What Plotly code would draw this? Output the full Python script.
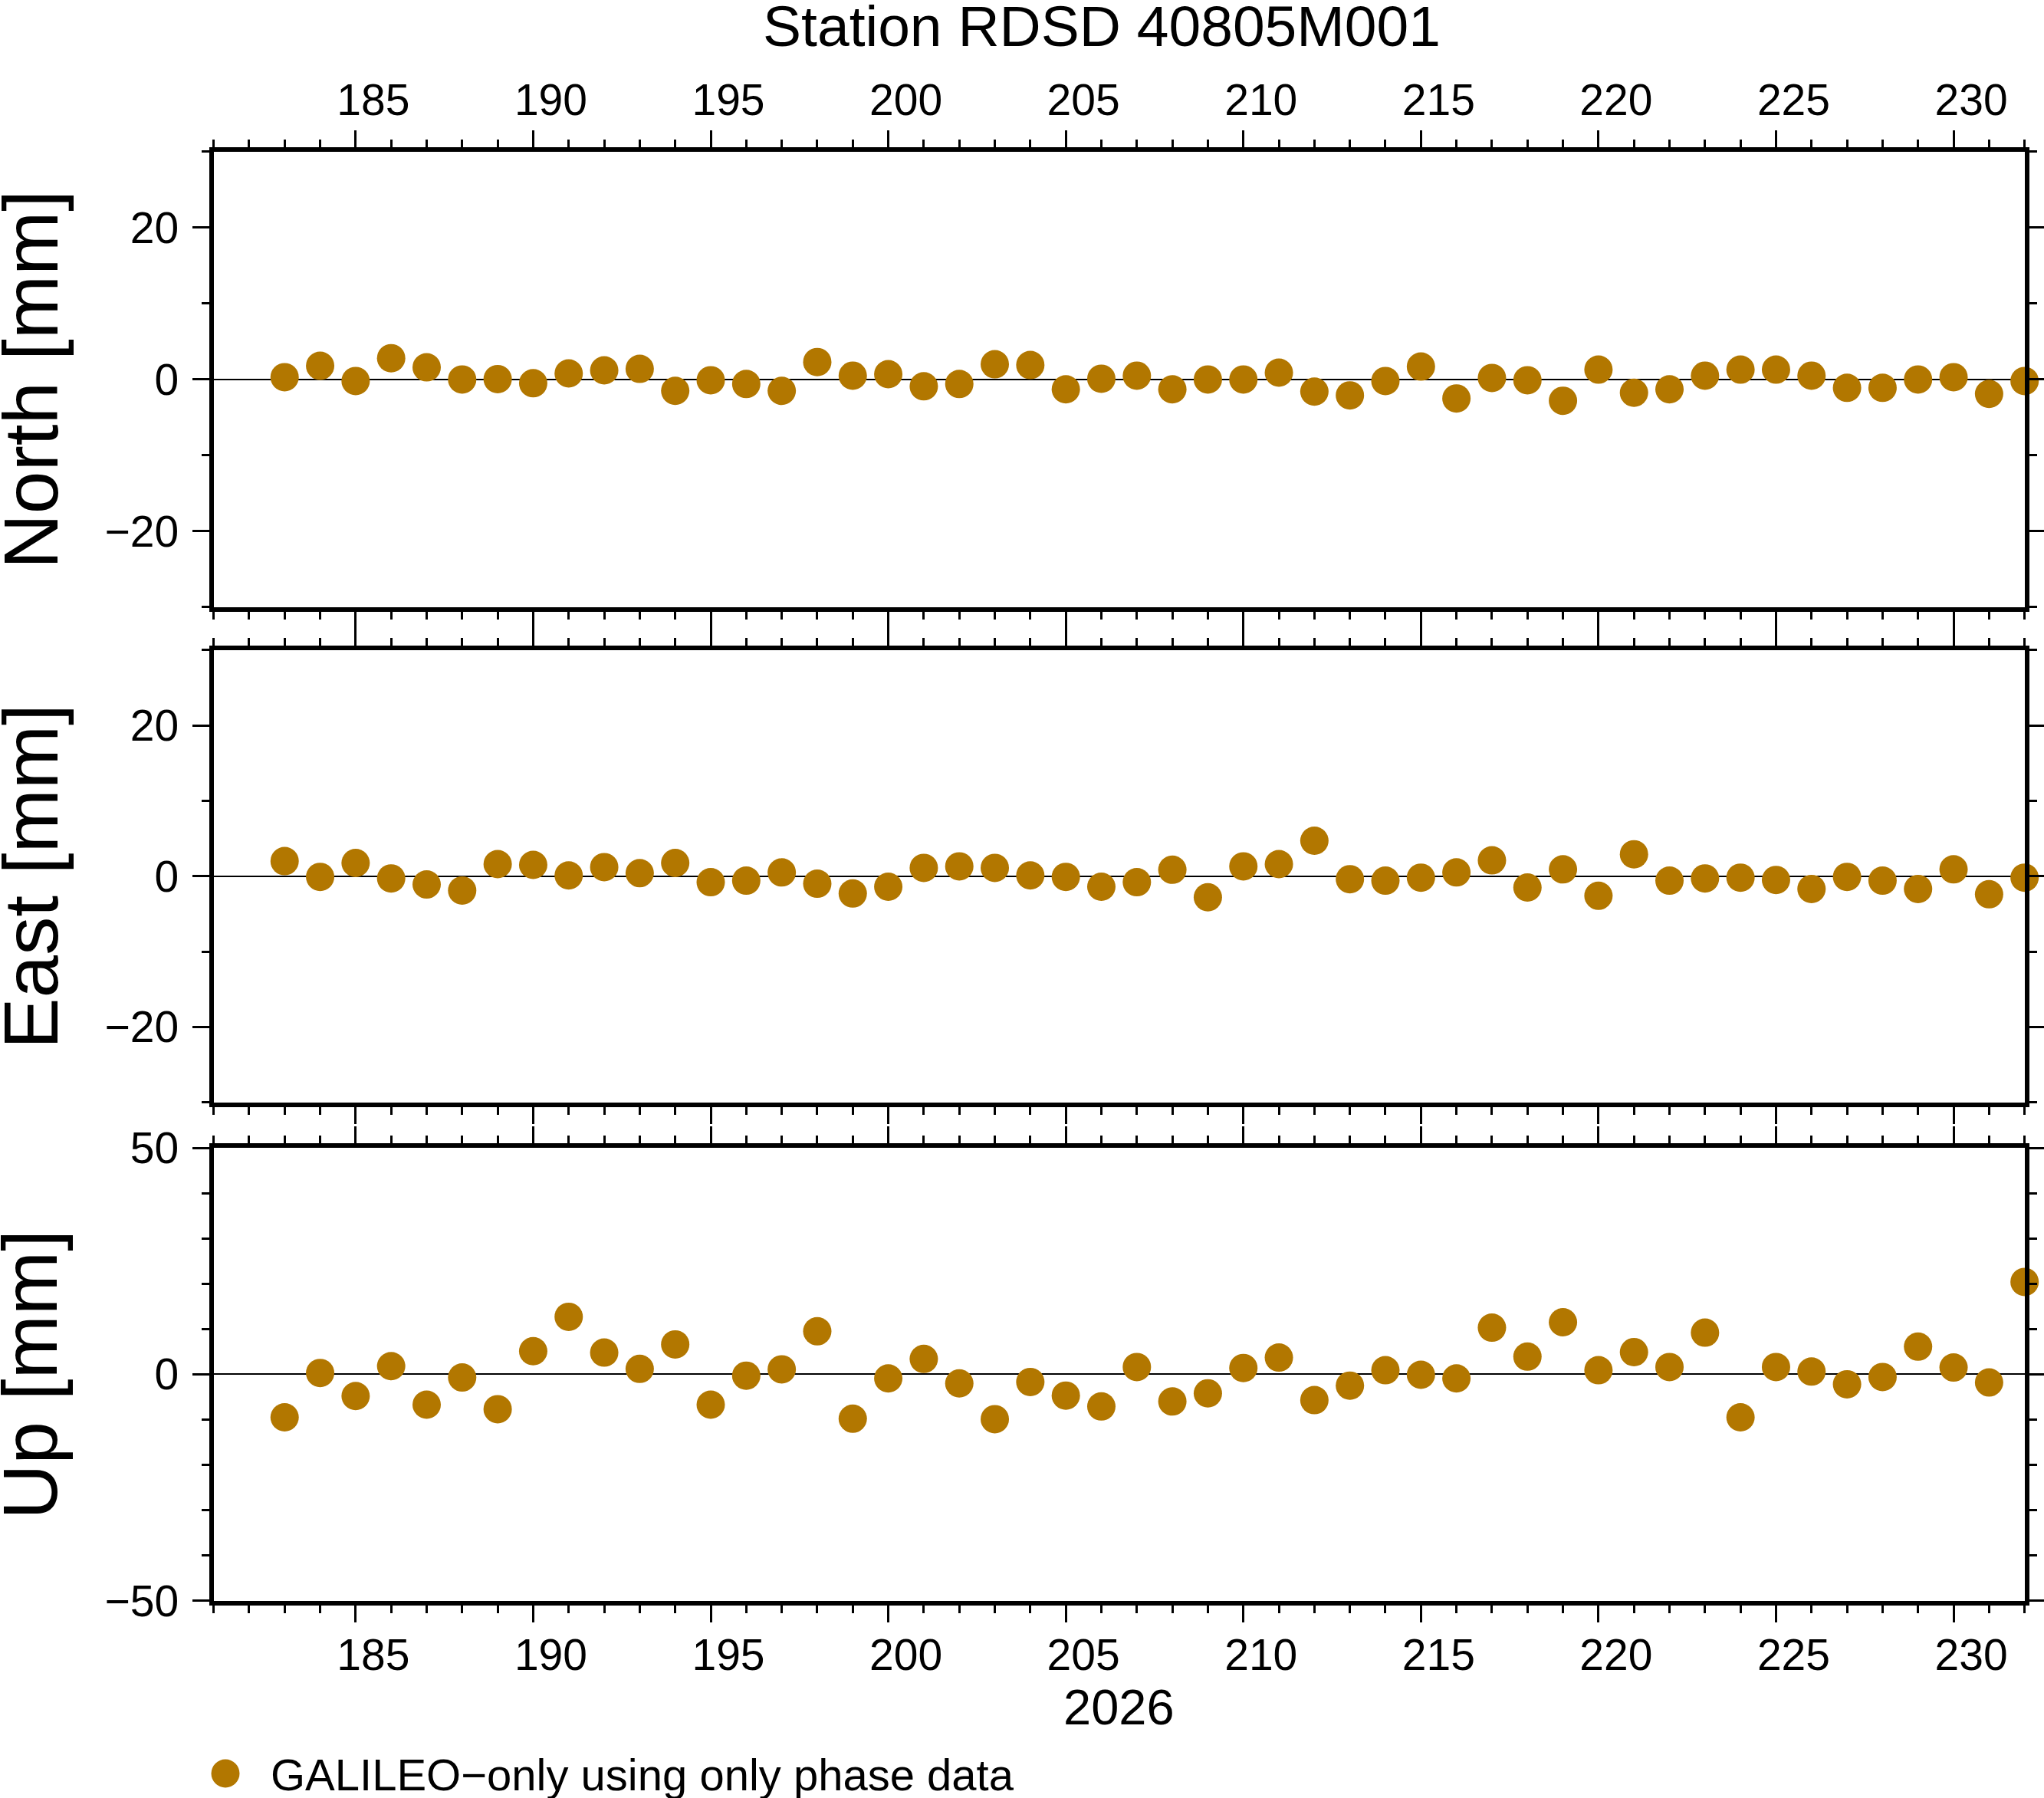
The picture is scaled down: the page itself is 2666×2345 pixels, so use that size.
import plotly.graph_objects as go

# Daily residuals of station RDSD 40805M001 (day of year 2026), in mm
days = list(range(183, 233))

north = [0.3, 1.8, -0.2, 2.8, 1.6, 0.0, 0.05, -0.5, 0.8, 1.2,
         1.4, -1.5, -0.1, -0.6, -1.5, 2.3, 0.5, 0.7, -0.9, -0.6,
         2.0, 1.9, -1.3, 0.1, 0.5, -1.3, 0.0, 0.0, 0.9, -1.6,
         -2.1, -0.2, 1.7, -2.5, 0.2, -0.1, -2.8, 1.3, -1.75, -1.3,
         0.5, 1.3, 1.3, 0.5, -1.1, -1.1, 0.0, 0.3, -1.9, -0.2]

east = [2.0, -0.1, 1.75, -0.3, -1.1, -1.9, 1.6, 1.5, 0.1, 1.2,
        0.4, 1.75, -0.8, -0.6, 0.5, -1.0, -2.3, -1.4, 1.1, 1.3,
        1.1, 0.1, -0.1, -1.4, -0.8, 0.85, -2.8, 1.3, 1.6, 4.7,
        -0.4, -0.6, -0.2, 0.5, 2.1, -1.5, 0.9, -2.6, 2.9, -0.6,
        -0.3, -0.2, -0.5, -1.7, -0.1, -0.6, -1.7, 0.9, -2.4, -0.2]

up = [-9.5, 0.3, -4.8, 1.8, -6.7, -0.7, -7.7, 5.1, 12.7, 4.8,
      1.2, 6.6, -6.7, -0.3, 1.1, 9.5, -9.8, -0.9, 3.4, -2.0,
      -9.9, -1.7, -4.7, -7.1, 1.6, -6.0, -4.2, 1.4, 3.7, -5.7,
      -2.5, 0.9, -0.1, -0.9, 10.3, 3.9, 11.5, 0.9, 4.9, 1.6,
      9.2, -9.5, 1.6, 0.6, -2.2, -0.6, 6.1, 1.5, -1.8, 20.4]

panel_titles = ["North [mm]", "East [mm]", "Up [mm]"]
series_name = "GALILEO\u2212only using only phase data"
year_label = "2026"
title = "Station RDSD 40805M001"

dot_color = "#b27700"
font_family = "Liberation Sans, Arial, sans-serif"

x_dom = [0.1045, 0.9905]
y_doms = [[0.6623, 0.9156], [0.3869, 0.6385], [0.1097, 0.3616]]
y_ranges = [[-30, 30], [-30, 30], [-50, 50]]
y_dticks = [20, 20, 50]

fig = go.Figure()

for i, vals in enumerate([north, east, up]):
    n = "" if i == 0 else str(i + 1)
    fig.add_trace(go.Scatter(
        x=days, y=vals, mode="markers", name=series_name,
        marker=dict(size=37, color=dot_color),
        cliponaxis=False, showlegend=False,
        xaxis="x" + n, yaxis="y" + n,
    ))

    # common frame look: thick box, ticks outside on all four sides
    axis_common = dict(
        showline=True, linewidth=6, linecolor="black", mirror="allticks",
        ticks="outside", tickwidth=3, tickcolor="black", ticklen=22,
        showgrid=False, tickfont=dict(size=57, family=font_family),
    )

    # day labels sit in the middle of the day, half a day right of the tick
    xaxis = dict(
        axis_common, domain=x_dom, range=[181, 232], dtick=5, tick0=0,
        zeroline=False, anchor="y" + n, ticklabelshift=23,
        minor=dict(dtick=1, ticks="outside", ticklen=10, tickwidth=3, tickcolor="black"),
    )
    if i == 0:
        xaxis["side"] = "top"
        xaxis["ticklabelstandoff"] = -3
    elif i == 1:
        xaxis["showticklabels"] = False
    else:
        xaxis["ticklabelstandoff"] = -6
    yaxis = dict(
        axis_common, domain=y_doms[i], range=y_ranges[i], dtick=y_dticks[i], tick0=0,
        zeroline=True, zerolinecolor="black", zerolinewidth=2, anchor="x" + n,
        minor=dict(dtick=10, ticks="outside", ticklen=10, tickwidth=3, tickcolor="black"),
        ticklabelstandoff=6,
    )
    fig.update_layout({"xaxis" + n: xaxis, "yaxis" + n: yaxis})

    # component name to the left of each panel
    fig.add_annotation(
        text=panel_titles[i], textangle=-90, showarrow=False,
        xref="paper", x=0.0148, xanchor="center",
        yref="y" + n + " domain", y=0.5, yanchor="middle",
        font=dict(size=100, family=font_family, color="black"),
    )

# year below the bottom axis
fig.add_annotation(
    text=year_label, showarrow=False,
    xref="x3 domain", x=0.5, xanchor="center",
    yref="paper", y=1 - 2226 / 2345, yanchor="middle",
    font=dict(size=65, family=font_family, color="black"),
)

# legend: dot + label under the plot
fig.add_shape(
    type="circle", xref="paper", yref="paper",
    x0=(294 - 18.5) / 2666, x1=(294 + 18.5) / 2666,
    y0=1 - (2313 + 18.5) / 2345, y1=1 - (2313 - 18.5) / 2345,
    fillcolor=dot_color, line=dict(width=0),
)
fig.add_annotation(
    text=series_name, showarrow=False,
    xref="paper", x=351 / 2666, xanchor="left",
    yref="paper", y=1 - 2314 / 2345, yanchor="middle",
    font=dict(size=58, family=font_family, color="black"),
)

fig.update_layout(
    width=2666, height=2345,
    margin=dict(l=0, r=0, t=0, b=0, autoexpand=False),
    plot_bgcolor="white", paper_bgcolor="white",
    showlegend=False,
    font=dict(family=font_family, color="black", size=57),
    title=dict(
        text=title, x=1437 / 2666, xanchor="center", xref="paper",
        y=1 - 34 / 2345, yanchor="middle", yref="paper",
        font=dict(size=75, family=font_family, color="black"),
    ),
)

# drop the default page margin so the figure sits at the window corner
fig.write_html("out.html", config={"displayModeBar": False},
               post_script="document.body.style.margin = '0';")
